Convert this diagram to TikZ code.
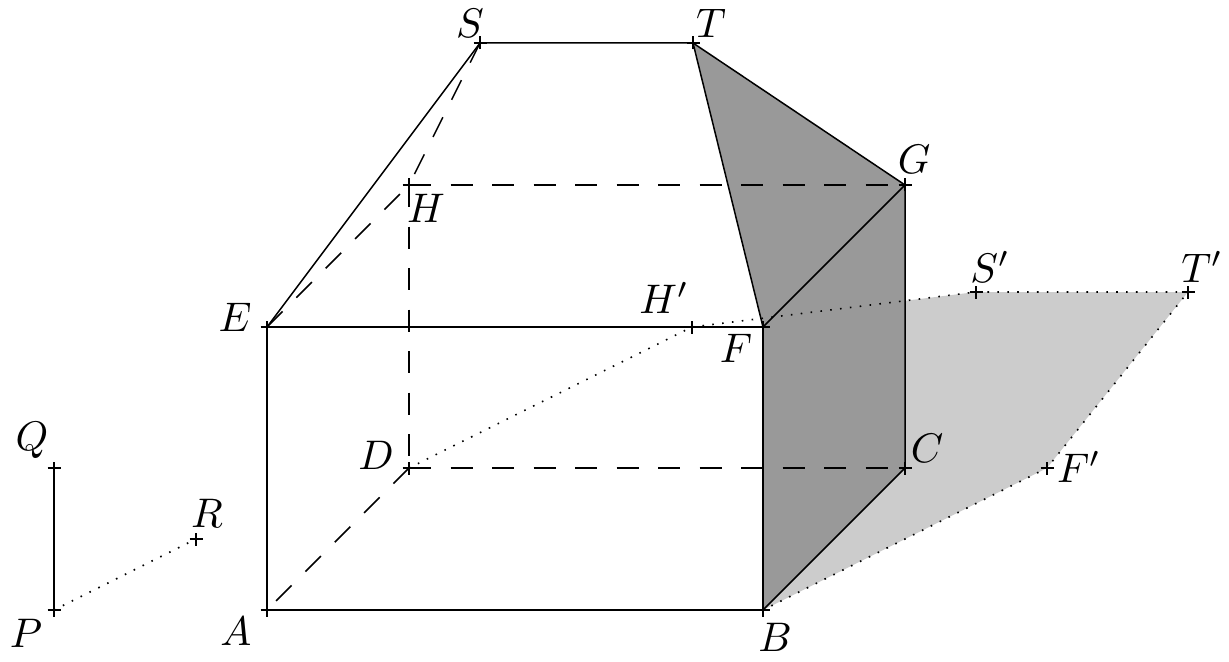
\documentclass[tikz,border=0pt]{standalone}
\begin{document}
\begin{tikzpicture}[x=1bp,y=-1bp,
  mk/.style={inner sep=0pt,minimum size=0pt,outer sep=0pt},
  lab/.style={inner sep=0pt,scale=4.15},
  edge/.style={line width=1.5bp,black},
  hid/.style={line width=1.5bp,dash pattern=on 22bp off 19.5bp},
  dot/.style={line width=1.6bp,dash pattern=on 1.6bp off 8.3bp}]
\useasboundingbox (0,0) rectangle (1229,662);
\foreach \n/\x/\y in {A/267/610,B/763/610,C/905/468,D/409/468,E/267/327,F/763/327,G/905/185,H/409/185,S/480/43,T/693/43,P/54/610,Q/54/468,R/196/539,Hp/692/327,Sp/976/292,Tp/1188/292,Fp/1047/468,X/905/300.8}
  \node[mk] (\n) at (\x,\y) {};
\fill[black!20] (B.center) -- (C.center) -- (X.center) -- (Sp.center) -- (Tp.center) -- (Fp.center) -- cycle;
\fill[black!40] (B.center) -- (C.center) -- (G.center) -- (T.center) -- (F.center) -- cycle;
\draw[edge] (A.center) -- (B.center) -- (F.center) -- (E.center) -- cycle;
\draw[edge] (B.center) -- (C.center) -- (G.center) -- (F.center);
\draw[edge] (E.center) -- (S.center) -- (T.center) -- (G.center);
\draw[edge] (T.center) -- (F.center);
\draw[edge] (P.center) -- (Q.center);
\draw[hid] (D.center) -- (A.center);
\draw[hid] (D.center) -- (C.center);
\draw[hid] (H.center) -- (D.center);
\draw[hid] (H.center) -- (G.center);
\draw[hid] (E.center) -- (H.center);
\draw[hid] (S.center) -- (H.center);
\draw[dot] (P.center) -- (R.center);
\draw[dot] (D.center) -- (Hp.center) -- (Sp.center) -- (Tp.center) -- (Fp.center) -- (B.center);
\foreach \n in {A,B,C,D,E,F,G,H,S,T,P,Q,R,Hp,Sp,Tp,Fp}
  \draw[line width=1.5bp] ([xshift=-6.5bp]\n.center) -- ([xshift=6.5bp]\n.center) ([yshift=-6.5bp]\n.center) -- ([yshift=6.5bp]\n.center);
\node[lab] (lA) at (236,631) {$A$};
\node[lab] (lB) at (775,637) {$B$};
\node[lab] (lC) at (927,448) {$C$};
\node[lab] (lD) at (376,455) {$D$};
\node[lab] (lE) at (235,317) {$E$};
\node[lab] (lF) at (736,348) {$F$};
\node[lab] (lG) at (914,159) {$G$};
\node[lab] (lH) at (426,208) {$H$};
\node[lab] (lS) at (470,23) {$S$};
\node[lab] (lT) at (711,23) {$T$};
\node[lab] (lP) at (26,633) {$P$};
\node[lab] (lQ) at (32,440) {$Q$};
\node[lab] (lR) at (207,513) {$R$};
\node[lab] (lHp) at (664,298) {$H'$};
\node[lab] (lSp) at (990,267) {$S'$};
\node[lab] (lTp) at (1202,267) {$T'$};
\node[lab] (lFp) at (1079,467) {$F'$};
\end{tikzpicture}
\end{document}
